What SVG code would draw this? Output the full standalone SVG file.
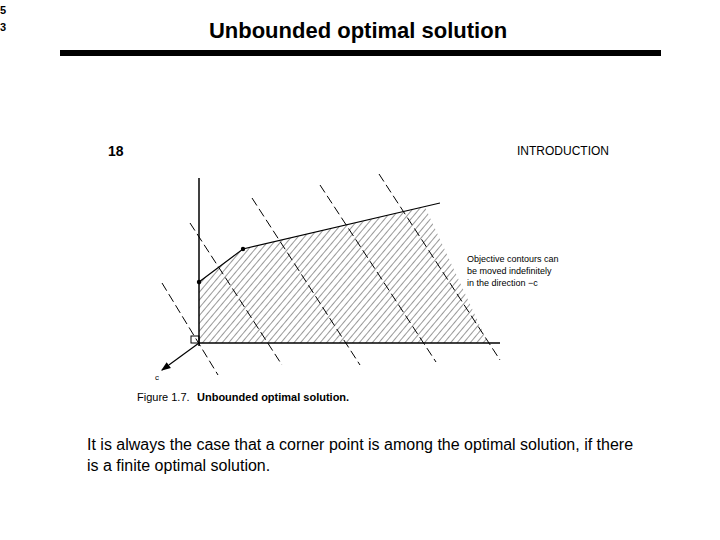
<svg xmlns="http://www.w3.org/2000/svg" width="720" height="540" viewBox="0 0 720 540">
<style>
.s{font-family:"Liberation Sans",Arial,sans-serif;fill:#000}
.c{stroke:#000;stroke-width:1;stroke-dasharray:9 4;fill:none}
</style>
<defs>
<pattern id="h" width="5" height="5" patternUnits="userSpaceOnUse" patternTransform="rotate(40)">
<line x1="0" y1="0" x2="0" y2="5" stroke="#000" stroke-width="0.8"/>
</pattern>
<marker id="a" markerWidth="8" markerHeight="8" refX="7" refY="4" orient="auto"><path d="M0,1 L8,4 L0,7 Z" fill="#000"/></marker>
</defs>
<rect width="720" height="540" fill="#fff"/>
<text class="s" x="0" y="14" font-size="11" font-weight="bold">5</text>
<text class="s" x="0" y="31" font-size="11" font-weight="bold">3</text>
<g id="title"><text class="s" x="358" y="38" font-size="22" font-weight="bold" text-anchor="middle">Unbounded optimal solution</text>
<rect x="60" y="50" width="601" height="6" fill="#000"/></g>
<g id="figure">
<text class="s" x="108" y="156" font-size="14" font-weight="bold">18</text>
<text class="s" x="517" y="155" font-size="12">INTRODUCTION</text>
<polygon id="region" points="199,282 243,249 425,207 488,343 199,343" fill="url(#h)"/>
<polyline points="199,282 243,249 440,203" fill="none" stroke="#000" stroke-width="1.2"/>
<line x1="199" y1="178" x2="199" y2="346" stroke="#000" stroke-width="1.5"/>
<line x1="199" y1="343" x2="500" y2="343" stroke="#000" stroke-width="1.5"/>
<circle cx="199" cy="282" r="2.2"/><circle cx="243" cy="249" r="2.2"/>
<rect x="191" y="336" width="8" height="7" fill="none" stroke="#000"/>
</g>
<g id="connectors">
<line x1="199" y1="343" x2="162" y2="370" stroke="#000" stroke-width="1.2" marker-end="url(#a)"/>
<line class="c" x1="162" y1="283" x2="218" y2="375"/>
<line class="c" x1="190" y1="223" x2="282" y2="365"/>
<line class="c" x1="252" y1="198" x2="360" y2="365"/>
<line class="c" x1="320" y1="185" x2="436" y2="362"/>
<line class="c" x1="379" y1="174" x2="500" y2="360"/>
</g>
<g id="labels">
<text class="s" x="155" y="380" font-size="8">c</text>
<text class="s" x="467" y="262" font-size="9">Objective contours can</text>
<text class="s" x="467" y="274" font-size="9">be moved indefinitely</text>
<text class="s" x="467" y="286" font-size="9">in the direction −c</text>
<text class="s" x="137" y="401" font-size="11">Figure 1.7.</text>
<text class="s" x="197" y="401" font-size="11" font-weight="bold">Unbounded optimal solution.</text>
</g>
<g id="body">
<text class="s" x="87" y="450" font-size="16">It is always the case that a corner point is among the optimal solution, if there</text>
<text class="s" x="87" y="471" font-size="16">is a finite optimal solution.</text>
</g>
</svg>
